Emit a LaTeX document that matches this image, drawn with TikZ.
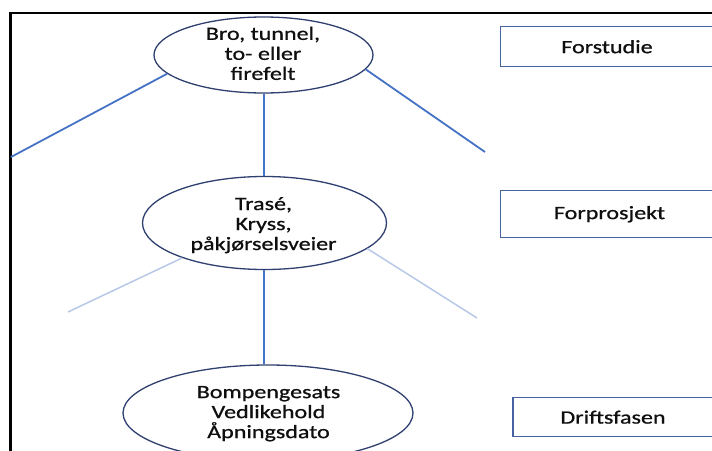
\documentclass[tikz,border=0pt]{standalone}
\usepackage{fontspec}
\setmainfont{Carlito}[FakeStretch=1.28, FakeBold=0.8]
\usetikzlibrary{shapes.geometric}

\definecolor{ovalline}{RGB}{47,64,112}
\definecolor{boxline}{RGB}{70,98,160}
\definecolor{branch}{RGB}{68,114,196}
\definecolor{branchlight}{RGB}{184,201,232}
\definecolor{ink}{RGB}{15,15,15}

\tikzset{
  oval/.style={ellipse, draw=ovalline, line width=1.3pt, fill=white, inner sep=0pt},
  ovaltext/.style={align=center, inner sep=0pt, text=ink,
    font=\fontsize{18.8}{20}\selectfont},
  phase/.style={rectangle, draw=boxline, line width=1.3pt, fill=white, inner sep=0pt,
    text=ink, font=\fontsize{18.8}{20}\selectfont},
  tie/.style={draw=branch, line width=1.8pt},
  tielight/.style={draw=branchlight, line width=1.5pt},
}

\begin{document}
\begin{tikzpicture}[x=1pt, y=-1pt]
\useasboundingbox (0,0) rectangle (712,450);
\clip (0,0) rectangle (712,450);
\fill[white] (0,0) rectangle (712,450);

% outer frame (only its left and top sides are in view)
\draw[black, line width=2.5pt] (10.3,470) -- (10.3,13) -- (740,13);

% free ends of the branches
\coordinate (a1) at (11,157);
\coordinate (a2) at (485,152);
\coordinate (b1) at (68,312);
\coordinate (b2) at (477,318);

% ovals
\node[oval, minimum width=219pt, minimum height=76pt] (e1) at (263.5,55) {};
\node[oval, minimum width=244pt, minimum height=93pt] (e2) at (264.5,223) {};
\node[oval, minimum width=290pt, minimum height=96pt] (e3) at (268,413) {};

% branches
\draw[tie] (e1.191) -- (a1);
\draw[tie] (e1.-8) -- (a2);
\draw[tie] (e1.south -| 264,0) -- (e2.north -| 264,0);
\draw[tielight] (e2.203) -- (b1);
\draw[tielight] (e2.-14) -- (b2);
\draw[tie] (e2.south -| 264,0) -- (e3.north -| 264,0);

% oval texts
\node[ovaltext] (t1) at (263,53.4) {Bro, tunnel,\\to- eller\\firefelt};
\node[ovaltext] (t2) at (263.5,225.2) {Trasé,\\Kryss,\\påkjørselsveier};
\node[ovaltext] (t3) at (268.5,413.7) {Bompengesats\\Vedlikehold\\Åpningsdato};

% phase boxes
\node[phase, minimum width=212.6pt, minimum height=40pt] (p1) at (607,46.7) {Forstudie};
\node[phase, minimum width=217.6pt, minimum height=47pt] (p2) at (609.5,214.2) {Forprosjekt};
\node[phase, minimum width=200pt, minimum height=39pt] (p3) at (613,417.2) {Driftsfasen};
\end{tikzpicture}
\end{document}
